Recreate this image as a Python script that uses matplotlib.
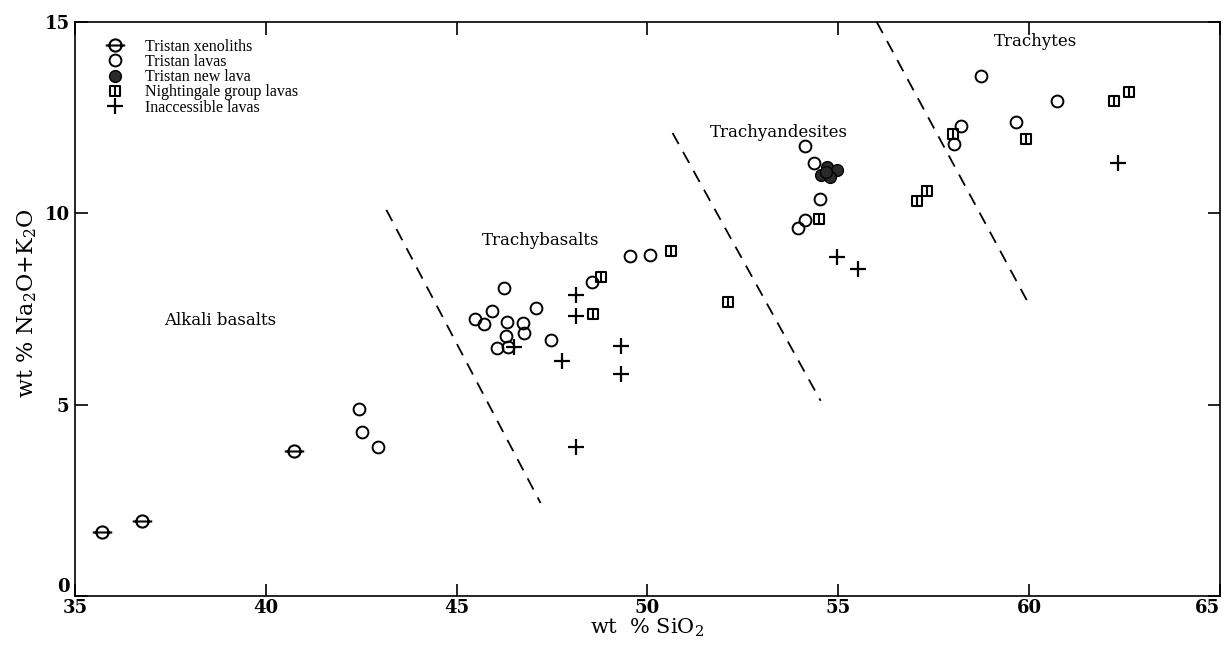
import matplotlib
matplotlib.use("Agg")
import matplotlib.pyplot as plt
from matplotlib.path import Path

plt.rcParams['font.family'] = ['DejaVu Serif']
plt.rcParams['mathtext.fontset'] = 'dejavuserif'

# ---- data ----
xeno_x = [35.70, 36.75, 40.74]
xeno_y = [1.66, 1.96, 3.80]

lava_x = [42.45, 42.53, 42.95, 46.23, 45.93, 45.47, 45.71, 46.32, 46.73, 46.76, 46.30,
          46.06, 46.36, 47.08, 47.47, 48.56, 49.54, 50.06, 54.13, 54.36, 54.52, 54.13,
          53.95, 58.73, 60.74, 59.67, 58.23, 58.04]
lava_y = [4.89, 4.29, 3.89, 8.04, 7.45, 7.23, 7.11, 7.17, 7.13, 6.88, 6.79,
          6.49, 6.51, 7.53, 6.69, 8.20, 8.89, 8.91, 11.77, 11.31, 10.37, 9.83,
          9.61, 13.60, 12.94, 12.38, 12.28, 11.81]

new_x = [54.70, 54.96, 54.54, 54.78, 54.67]
new_y = [11.22, 11.13, 11.00, 10.96, 11.09]

night_x = [48.79, 48.58, 50.63, 52.12, 54.49, 57.07, 57.34, 58.02, 59.93, 62.23, 62.62]
night_y = [8.34, 7.36, 9.01, 7.67, 9.84, 10.33, 10.57, 12.07, 11.93, 12.93, 13.18]

inacc_x = [46.50, 48.14, 48.14, 47.76, 49.32, 49.32, 48.14, 54.98, 55.52, 62.34]
inacc_y = [6.51, 7.87, 7.32, 6.14, 6.53, 5.79, 3.90, 8.87, 8.54, 11.31]

# boundary dashed lines
bound_x = [[43.16, 47.20], [50.66, 54.54], [56.01, 60.05]]
bound_y = [[10.09, 2.43], [12.10, 5.10], [15.0, 7.53]]

region_names = ['Alkali basalts', 'Trachybasalts', 'Trachyandesites', 'Trachytes']
region_x = [38.80, 47.20, 53.44, 60.18]
region_y = [7.21, 9.30, 12.10, 14.48]

xticks = [35, 40, 45, 50, 55, 60, 65]
yticks = [0, 5, 10, 15]

# ---- custom markers ----
circ = Path.unit_circle()
xeno_path = Path(list(circ.vertices) + [(-1.6, 0), (1.6, 0)],
                 list(circ.codes) + [Path.MOVETO, Path.LINETO])

sq_path = Path([(-1, -1), (1, -1), (1, 1), (-1, 1), (-1, -1), (0, -1), (0, 1)],
               [Path.MOVETO, Path.LINETO, Path.LINETO, Path.LINETO, Path.CLOSEPOLY,
                Path.MOVETO, Path.LINETO])

fig = plt.figure(figsize=(12.31, 6.56), dpi=100)
ax = fig.add_axes([0.0609, 0.0915, 0.930, 0.875])

for bx, by in zip(bound_x, bound_y):
    ax.plot(bx, by, color='black', lw=1.3, dashes=(7, 5))

h1, = ax.plot(xeno_x, xeno_y, ls='none', marker=xeno_path, ms=14, mfc='none',
              mec='black', mew=1.5, label='Tristan xenoliths')
h2, = ax.plot(lava_x, lava_y, ls='none', marker='o', ms=8.5, mfc='none',
              mec='black', mew=1.4, label='Tristan lavas')
h3, = ax.plot(new_x, new_y, ls='none', marker='o', ms=8.5, mfc='#2a2a2a',
              mec='black', mew=1.0, label='Tristan new lava')
h4, = ax.plot(night_x, night_y, ls='none', marker=sq_path, ms=7, mfc='none',
              mec='black', mew=1.5, label='Nightingale group lavas')
h5, = ax.plot(inacc_x, inacc_y, ls='none', marker='+', ms=11, mec='black',
              mew=1.6, label='Inaccessible lavas')

for name, rx, ry in zip(region_names, region_x, region_y):
    ax.text(rx, ry, name, ha='center', va='center', fontsize=12)

ax.set_xlim(35, 65)
ax.set_ylim(0, 15)
ax.set_xticks(xticks)
ax.set_yticks(yticks)
xl = ax.set_xticklabels([str(t) for t in xticks], fontweight='bold', fontsize=13)
yl = ax.set_yticklabels([str(t) for t in yticks], fontweight='bold', fontsize=13)
xl[-1].set_ha('right')
yl[0].set_va('bottom')
ax.tick_params(direction='in', length=9, width=1.2, top=True, right=True)
ax.tick_params(axis='x', pad=2)
ax.tick_params(axis='y', pad=4)
for s in ax.spines.values():
    s.set_linewidth(1.2)

ax.set_xlabel(r'wt  % SiO$_2$', fontsize=15, labelpad=0)
ax.set_ylabel(r'wt % Na$_2$O+K$_2$O', fontsize=16)
ax.yaxis.set_label_coords(-0.031, 0.51)

leg = ax.legend(handles=[h1, h2, h3, h4, h5], loc='upper left',
                bbox_to_anchor=(0.021, 0.982), frameon=False,
                prop={'family': 'Liberation Serif', 'size': 11.5},
                handlelength=1.2, handletextpad=1.3, labelspacing=-0.05,
                borderaxespad=0)

fig.savefig('out.png', dpi=100)
